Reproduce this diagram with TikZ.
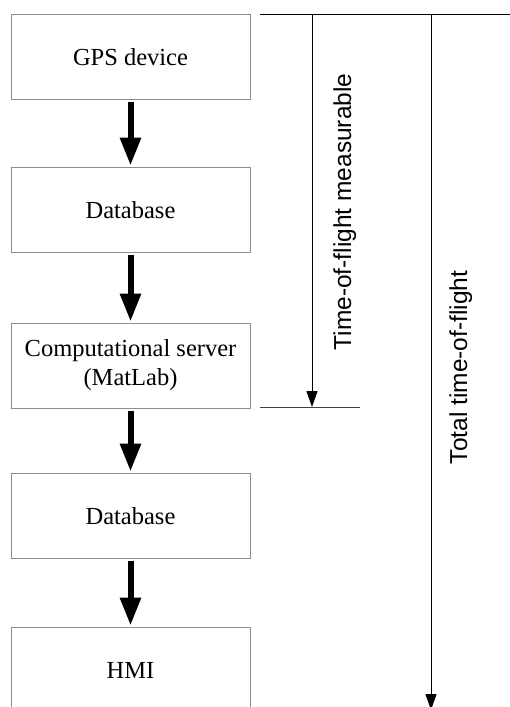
\documentclass[tikz,border=0pt]{standalone}
\usepackage{fontspec}
\setmainfont{Liberation Serif}
\newfontfamily\arialfont{Liberation Sans}
\usetikzlibrary{arrows.meta}
\definecolor{boxgray}{RGB}{140,140,140}
\begin{document}
\begin{tikzpicture}[x=1pt,y=-1pt,
  box/.style={draw=boxgray,line width=1pt,minimum width=239pt,minimum height=85pt,
    inner sep=0pt,font=\fontsize{24.5pt}{29pt}\selectfont},
  onebox/.style={box,text height=17pt,text depth=0pt},
  twobox/.style={box,align=center},
  flow/.style={line width=6pt,-{Triangle[width=20pt,length=28pt]},shorten <=2pt,shorten >=1pt},
  thin/.style={line width=1pt,draw=black},
  timearrow/.style={thin,-{Triangle[width=11pt,length=16pt]}},
  vlabel/.style={rotate=90,anchor=base,inner sep=0pt,font=\arialfont\fontsize{24.5pt}{29pt}\selectfont}]
\useasboundingbox (0,0) rectangle (510,707);
\fill[white] (0,0) rectangle (510,707);

\node[onebox] (gps)  at (130.5,56.5)  {GPS device};
\node[onebox] (db1)  at (130.5,209.5) {Database};
\node[twobox] (comp) at (130.5,365.5) {Computational server\\(MatLab)};
\node[onebox] (db2)  at (130.5,515.5) {Database};
\node[onebox] (hmi)  at (130.5,669.5) {HMI};

\draw[flow] (gps.south) -- (db1.north);
\draw[flow] (db1.south) -- (comp.north);
\draw[flow] (comp.south) -- (db2.north);
\draw[flow] (db2.south) -- (hmi.north);

\coordinate (topL) at (260,14);
\coordinate (topR) at (510,14);
\coordinate (m0) at (312,14);
\coordinate (m1) at (312,407);
\coordinate (botL) at (260,407);
\coordinate (botR) at (360,407);
\coordinate (t0) at (431,14);
\coordinate (t1) at (431,710);

\draw[thin] (topL) -- (topR);
\draw[thin,draw=black!75] (botL) -- (botR);
\draw[timearrow] (m0) -- (m1);
\draw[timearrow] (t0) -- (t1);

\node[vlabel] (lblm) at (351,212) {Time-of-flight measurable};
\node[vlabel] (lblt) at (467,367.5) {Total time-of-flight};
\end{tikzpicture}
\end{document}
